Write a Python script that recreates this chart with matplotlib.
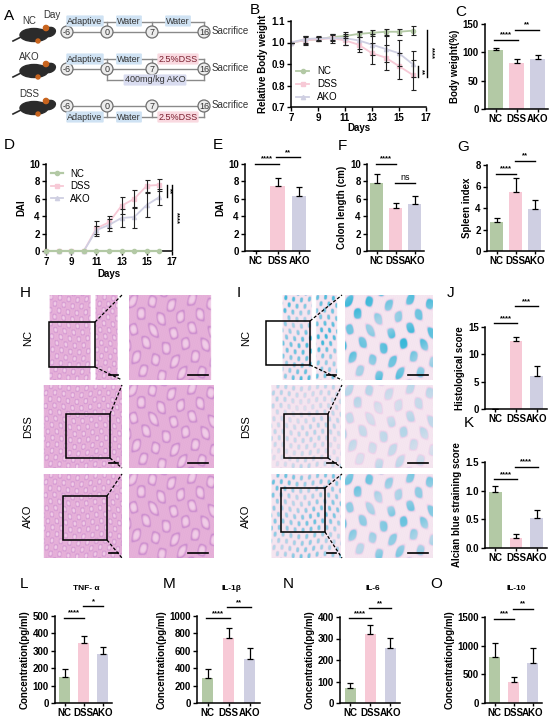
import numpy as np
import matplotlib
matplotlib.use("Agg")
import matplotlib.pyplot as plt
from matplotlib.patches import Circle, Ellipse, Rectangle

plt.rcParams['font.family'] = ['Liberation Sans', 'DejaVu Sans']
plt.rcParams['font.weight'] = 'bold'
plt.rcParams['axes.labelweight'] = 'bold'
plt.rcParams['axes.linewidth'] = 1.1

W, H = 550, 719

groups = ['NC', 'DSS', 'AKO']
col_nc, col_dss, col_ako = '#b3c9a5', '#f7c9d6', '#cfcfe2'
bar_cols = [col_nc, col_dss, col_ako]

# B: relative body weight
days = [7, 8, 9, 10, 11, 12, 13, 14, 15, 16]
bw_nc = [1.00, 1.01, 1.015, 1.025, 1.03, 1.04, 1.045, 1.05, 1.05, 1.055]
bw_nc_err = [0.0, 0.015, 0.01, 0.015, 0.01, 0.015, 0.015, 0.015, 0.015, 0.02]
bw_dss = [1.00, 1.01, 1.015, 1.02, 1.01, 0.99, 0.95, 0.93, 0.89, 0.85]
bw_dss_err = [0.0, 0.02, 0.01, 0.02, 0.02, 0.035, 0.05, 0.06, 0.06, 0.07]
bw_ako = [1.00, 1.015, 1.02, 1.02, 1.02, 1.01, 0.99, 0.97, 0.95, 0.90]
bw_ako_err = [0.0, 0.015, 0.01, 0.015, 0.03, 0.04, 0.05, 0.06, 0.06, 0.06]

# C: body weight (%)
c_mean = [104, 81, 89]
c_err = [4, 8, 7]

# D: DAI time course
dai_nc = [0, 0, 0, 0, 0, 0, 0, 0, 0, 0]
dai_dss = [0, 0, 0, 0, 2.6, 3.3, 5.2, 6.0, 7.5, 7.6]
dai_dss_err = [0, 0, 0, 0, 0.9, 0.7, 1.0, 1.0, 0.7, 0.7]
dai_ako = [0, 0, 0, 0, 2.4, 3.0, 3.8, 3.9, 5.3, 6.2]
dai_ako_err = [0, 0, 0, 0, 0.5, 0.7, 1.0, 1.2, 1.4, 0.9]

# E-G, J-K, L-O bar panels
e_mean, e_err = [0, 7.5, 6.3], [0, 0.9, 1.1]
f_mean, f_err = [7.8, 5.0, 5.4], [1.1, 0.5, 0.9]
g_mean, g_err = [2.7, 5.5, 3.9], [0.35, 1.3, 0.8]
j_mean, j_err = [0, 12.5, 6.1], [0, 0.7, 1.7]
k_mean, k_err = [0.98, 0.17, 0.52], [0.11, 0.08, 0.14]
tnf_mean, tnf_err = [148, 345, 280], [50, 40, 42]
il1b_mean, il1b_err = [290, 745, 510], [100, 120, 125]
il6_mean, il6_err = [72, 320, 254], [22, 43, 47]
il10_mean, il10_err = [810, 360, 705], [240, 90, 255]

fig = plt.figure(figsize=(W / 100, H / 100), dpi=100)


def px(x0, y0, x1, y1):
    return fig.add_axes([x0 / W, 1 - y1 / H, (x1 - x0) / W, (y1 - y0) / H])


def letter(x, y, s):
    fig.text(x / W, 1 - y / H, s, fontsize=11, fontweight='normal', ha='left', va='center')


def style(ax):
    for s in ['top', 'right']:
        ax.spines[s].set_visible(False)
    ax.tick_params(labelsize=7, length=3, width=1, pad=1.5)


def bars(ax, means, errs, ylim, yticks, ylabel, sigs, width=0.65):
    x = np.arange(3)
    ax.bar(x, means, width=width, color=bar_cols, zorder=2)
    ax.errorbar(x, means, yerr=[np.zeros(3), errs], fmt='none', ecolor='k',
                elinewidth=0.9, capsize=2.5, capthick=0.9, zorder=3)
    ax.set_xlim(-0.5, 2.5)
    ax.set_ylim(*ylim)
    ax.set_yticks(yticks)
    ax.set_xticks(x)
    ax.set_xticklabels(groups)
    ax.set_ylabel(ylabel, fontsize=7, labelpad=2)
    style(ax)
    ax.tick_params(axis='x', length=2)
    for i, j, y, txt in sigs:
        ax.plot([i - 0.05, j + 0.05], [y, y], color='k', lw=1, clip_on=False)
        ax.text((i + j) / 2, y + (ylim[1] - ylim[0]) * 0.015, txt, ha='center',
                va='bottom', fontsize=5.5 if txt != 'ns' else 6.5,
                fontweight='bold' if txt != 'ns' else 'normal', clip_on=False)


# ---------- A: schematic ----------
ov = fig.add_axes([0, 0, 1, 1], zorder=10)
ov.set_xlim(0, W)
ov.set_ylim(H, 0)
ov.axis('off')
ov.patch.set_alpha(0)

letter(4, 16, 'A')
circ_x = [67, 107, 152, 204]
circ_lab = ['-6', '0', '7', '16']
lc = '#8a8a8a'


def mouse(y):
    ov.add_patch(Ellipse((34, y + 2), 28, 13, color='#2b2b2b', zorder=3))
    ov.add_patch(Ellipse((49, y - 1), 13, 9, angle=-15, color='#2b2b2b', zorder=3))
    ov.add_patch(Circle((46, y - 5), 2.6, color='#c8641e', zorder=4))
    ov.add_patch(Circle((38, y + 8), 2.0, color='#c8641e', zorder=4))
    ov.plot([21, 13], [y + 4, y + 8], color='#2b2b2b', lw=1.2)


def label_box(x, y, s, kind='blue'):
    fc = {'blue': '#cfe2f3', 'pink': '#f9d9e0', 'lav': '#d9dcf0'}[kind]
    tc = '#7a1e2e' if kind == 'pink' else '#333333'
    ov.text(x, y, s, ha='center', va='center', fontsize=6.5, fontweight='normal',
            color=tc, zorder=6, bbox=dict(boxstyle='round,pad=0.12', fc=fc, ec='none'))


def timeline(y, top=None, bottom=None, top_from=0, bot_from=0):
    ov.plot([circ_x[0], circ_x[-1]], [y, y], color=lc, lw=1, zorder=2)
    for cx, cl in zip(circ_x, circ_lab):
        ov.add_patch(Circle((cx, y), 6, fc='#ececec', ec='#6f6f6f', lw=0.9, zorder=4))
        ov.text(cx, y + 0.5, cl, ha='center', va='center', fontsize=6.5,
                fontweight='normal', color='#333', zorder=5)
    ov.text(212, y - 1, 'Sacrifice', ha='left', va='center', fontsize=7,
            fontweight='normal', color='#333')
    if top is not None:
        ov.plot([circ_x[top_from], circ_x[-1]], [top, top], color=lc, lw=1, zorder=2)
        for cx in circ_x[top_from:]:
            ov.plot([cx, cx], [top, y - 6], color=lc, lw=1, zorder=2)
    if bottom is not None:
        ov.plot([circ_x[bot_from], circ_x[-1]], [bottom, bottom], color=lc, lw=1, zorder=2)
        for cx in circ_x[bot_from:]:
            ov.plot([cx, cx], [bottom, y + 6], color=lc, lw=1, zorder=2)


ov.text(43, 15, 'Day', fontsize=7, fontweight='normal', va='center', color='#333')
for yy, nm in [(21, 'NC'), (57, 'AKO'), (94, 'DSS')]:
    ov.text(19 if nm != 'NC' else 22, yy, nm, fontsize=7, fontweight='normal',
            va='center', color='#333')
for yy in [33, 69, 106]:
    mouse(yy)

timeline(32, top=22)
label_box(85, 21, 'Adaptive')
label_box(129, 21, 'Water')
label_box(178, 21, 'Water')

timeline(69, top=59, bottom=80, bot_from=1)
label_box(85, 59, 'Adaptive')
label_box(129, 59, 'Water')
label_box(178, 59, '2.5%DSS', 'pink')
label_box(155, 80, '400mg/kg AKO', 'lav')

timeline(106, bottom=117)
label_box(85, 117, 'Adaptive')
label_box(129, 117, 'Water')
label_box(178, 117, '2.5%DSS', 'pink')

# ---------- B ----------
letter(250, 10, 'B')
axb = px(291, 21, 426, 107)
for vals, errs, c, m, lab in [(bw_nc, bw_nc_err, col_nc, 'o', 'NC'),
                              (bw_dss, bw_dss_err, col_dss, 's', 'DSS'),
                              (bw_ako, bw_ako_err, col_ako, '^', 'AKO')]:
    axb.plot(days, vals, color=c, lw=1.3, marker=m, ms=3, label=lab, zorder=2)
    axb.errorbar(days, vals, yerr=errs, fmt='none', ecolor='#222', elinewidth=0.8,
                 capsize=1.8, capthick=0.8, zorder=3)
axb.set_xlim(7, 17)
axb.set_ylim(0.7, 1.1)
axb.set_xticks([7, 9, 11, 13, 15, 17])
axb.set_yticks([0.7, 0.8, 0.9, 1.0, 1.1])
axb.set_xlabel('Days', fontsize=7, labelpad=0)
axb.set_ylabel('Relative Body weight', fontsize=7, labelpad=2)
style(axb)
leg = axb.legend(loc='lower left', fontsize=7, frameon=False, handlelength=1.4,
                 borderaxespad=0.1, labelspacing=0.3, prop={'weight': 'normal', 'size': 7})
axb.plot([16.4, 16.4], [0.84, 0.89], color='k', lw=1, clip_on=False)
axb.text(16.65, 0.865, '**', rotation=270, fontsize=5.5, ha='center', va='center')
axb.plot([17.1, 17.1], [0.84, 1.06], color='k', lw=1, clip_on=False)
axb.text(17.4, 0.95, '****', rotation=270, fontsize=5.5, ha='center', va='center')

# ---------- C ----------
letter(455, 12, 'C')
axc = px(485, 24, 548, 109)
bars(axc, c_mean, c_err, (0, 150), [0, 50, 100, 150], 'Body weight(%)',
     [(0, 1, 122, '****'), (1, 2, 140, '**')], width=0.7)

# ---------- D ----------
letter(4, 145, 'D')
axd = px(46, 164, 172, 251)
for vals, errs, c, m, lab in [(dai_nc, None, col_nc, 'o', 'NC'),
                              (dai_dss, dai_dss_err, col_dss, 's', 'DSS'),
                              (dai_ako, dai_ako_err, col_ako, '^', 'AKO')]:
    axd.plot(days, vals, color=c, lw=1.6 if lab == 'NC' else 1.3, marker=m, ms=3,
             label=lab, zorder=3 if lab == 'NC' else 2, clip_on=False)
    if errs is not None:
        idx = [i for i, e in enumerate(errs) if e > 0]
        axd.errorbar([days[i] for i in idx], [vals[i] for i in idx],
                     yerr=[errs[i] for i in idx], fmt='none', ecolor='#222',
                     elinewidth=0.8, capsize=1.8, capthick=0.8, zorder=3)
axd.set_xlim(7, 17)
axd.set_ylim(0, 10)
axd.set_xticks([7, 9, 11, 13, 15, 17])
axd.set_yticks([0, 2, 4, 6, 8, 10])
axd.set_xlabel('Days', fontsize=7, labelpad=1)
axd.set_ylabel('DAI', fontsize=7, labelpad=2)
style(axd)
axd.legend(loc='upper left', frameon=False, handlelength=1.2, borderaxespad=0.1,
           labelspacing=0.25, prop={'weight': 'normal', 'size': 7})
axd.plot([16.6, 16.6], [6.2, 7.6], color='k', lw=1, clip_on=False)
axd.text(16.8, 6.9, '**', rotation=270, fontsize=5.5, ha='center', va='center')
axd.plot([17.0, 17.0], [0.1, 7.6], color='k', lw=1, clip_on=False)
axd.text(17.3, 3.8, '****', rotation=270, fontsize=5.5, ha='center', va='center')

# ---------- E, F, G ----------
letter(213, 145, 'E')
axe = px(245, 164, 310, 251)
bars(axe, e_mean, e_err, (0, 10), [0, 2, 4, 6, 8, 10], 'DAI',
     [(0, 1, 10.0, '****'), (1, 2, 10.8, '**')])
letter(338, 146, 'F')
axf = px(367, 164, 424, 251)
bars(axf, f_mean, f_err, (0, 10), [0, 2, 4, 6, 8, 10], 'Colon length (cm)',
     [(0, 1, 10.0, '****'), (1, 2, 7.8, 'ns')], width=0.68)
letter(457, 147, 'G')
axg = px(487, 165, 544, 251)
bars(axg, g_mean, g_err, (0, 8), [0, 2, 4, 6, 8], 'Spleen index',
     [(0, 1, 7.2, '****'), (1, 2, 8.4, '**')], width=0.68)


# ---------- H, I: histology panels (stylised tissue textures, not data) ----------
def tissue(h, w, stain, blue=0.0, white_cols=(), fx=0.34, fy=0.24):
    yy, xx = np.mgrid[0:h, 0:w].astype(float)
    s = (np.sin(xx * fx + 0.9 * np.sin(yy * 0.043)) *
         np.sin(yy * fy + 0.7 * np.sin(xx * 0.061)))
    mod = 0.5 + 0.5 * np.sin(xx * 0.031 + yy * 0.047) * np.cos(yy * 0.023 - xx * 0.017)
    fine = 0.5 + 0.5 * np.sin(xx * 1.3 + yy * 0.7) * np.sin(yy * 1.1 - xx * 0.4)
    ring = np.exp(-((s - 0.3) / 0.14) ** 2)[..., None]
    lumen = np.clip((s - 0.5) / 0.3, 0, 1)[..., None]
    if stain == 'he':
        base = np.array([0.93, 0.72, 0.88]) - 0.06 * fine[..., None]
        img = base * (1 - 0.75 * ring) + np.array([0.74, 0.48, 0.79]) * 0.75 * ring
        img = img * (1 - 0.6 * lumen) + np.array([0.97, 0.88, 0.95]) * 0.6 * lumen
    else:
        base = np.array([0.98, 0.92, 0.96]) - 0.04 * fine[..., None]
        img = base * (1 - 0.45 * ring) + np.array([0.92, 0.72, 0.89]) * 0.45 * ring
        amt = (np.clip((s - 0.3) / 0.2, 0, 1) * (0.4 + 0.6 * mod) * blue)[..., None]
        img = img * (1 - amt) + np.array([0.22, 0.72, 0.85]) * amt
    for a, b in white_cols:
        img[:, int(a * w):int(b * w)] = [1, 1, 1]
    return np.clip(img, 0, 1)


def show(rect, img):
    ax = px(*rect)
    ax.imshow(img, aspect='auto', interpolation='bilinear')
    ax.axis('off')
    return ax


letter(20, 293, 'H')
letter(237, 293, 'I')
row_y = [(295, 380), (385, 468), (474, 558)]
row_names = ['NC', 'DSS', 'AKO']
h_boxes = [(49, 322, 95, 367), (66, 414, 110, 458), (63, 496, 107, 540)]
i_boxes = [(266, 321, 310, 365), (284, 414, 328, 458), (281, 488, 325, 532)]
blues = [1.0, 0.35, 0.75]
for r, (y0, y1) in enumerate(row_y):
    hcols = [(0.0, 0.12), (0.62, 0.68), (0.95, 1.0)] if r == 0 else [(0.0, 0.05)]
    show((40, y0, 122, y1), tissue(170, 170, 'he', white_cols=hcols))
    show((129, y0, 213, y1), tissue(170, 170, 'he', fx=0.16, fy=0.11,
                                    white_cols=[(0.97, 1.0)] if r == 0 else ()))
    icols = [(0.0, 0.2), (0.6, 0.66), (0.95, 1.0)] if r == 0 else [(0.0, 0.05)]
    show((268, y0, 341, y1), tissue(170, 170, 'ab', blue=blues[r], white_cols=icols))
    show((345, y0, 432, y1), tissue(170, 170, 'ab', blue=blues[r], fx=0.16, fy=0.11))
    ym = (y0 + y1) / 2
    ov.text(28, ym, row_names[r], rotation=90, ha='center', va='center', fontsize=8,
            fontweight='normal')
    ov.text(246, ym, row_names[r], rotation=90, ha='center', va='center', fontsize=8,
            fontweight='normal')
    for (bx0, by0, bx1, by1), edge in [(h_boxes[r], 122), (i_boxes[r], 342)]:
        ov.add_patch(Rectangle((bx0, by0), bx1 - bx0, by1 - by0, fill=False, ec='k', lw=1.1))
        ov.plot([bx1, edge], [by0, y0], 'k--', lw=0.9, dashes=(2.5, 1.5))
        ov.plot([bx1, edge], [by1, y1], 'k--', lw=0.9, dashes=(2.5, 1.5))
    for x_end, ln in [(118, 9), (208, 20), (336, 9), (428, 20)]:
        ov.plot([x_end - ln, x_end], [y1 - 5, y1 - 5], color='k', lw=1.2)

# ---------- J, K ----------
letter(447, 293, 'J')
axj = px(485, 327, 547, 409)
bars(axj, j_mean, j_err, (0, 15), [0, 5, 10, 15], 'Histological score',
     [(0, 1, 15.7, '****'), (1, 2, 18.8, '***')], width=0.62)
letter(464, 423, 'K')
axk = px(485, 462, 547, 548)
bars(axk, k_mean, k_err, (0, 1.5), [0.0, 0.5, 1.0, 1.5], 'Alcian blue straining score',
     [(0, 1, 1.2, '****'), (1, 2, 1.42, '****')], width=0.62)
axk.yaxis.set_major_formatter(matplotlib.ticker.FormatStrFormatter('%.1f'))

# ---------- L-O cytokines ----------
cyto = [
    ('L', 'TNF- α', 20, (55, 616, 112, 703), tnf_mean, tnf_err, (0, 500),
     [0, 100, 200, 300, 400, 500], [(0, 1, 490, '****'), (1, 2, 555, '*')]),
    ('M', 'IL-1β', 163, (197, 616, 260, 703), il1b_mean, il1b_err, (0, 1000),
     [0, 200, 400, 600, 800, 1000], [(0, 1, 975, '****'), (1, 2, 1100, '**')]),
    ('N', 'IL-6', 283, (340, 617, 400, 703), il6_mean, il6_err, (0, 400),
     [0, 100, 200, 300, 400], [(0, 1, 395, '****'), (1, 2, 440, '**')]),
    ('O', 'IL-10', 430, (485, 617, 542, 703), il10_mean, il10_err, (0, 1500),
     [0, 500, 1000, 1500], [(0, 1, 1470, '***'), (1, 2, 1640, '**')]),
]
for lt, title, lx, rect, m, e, yl, yt, sg in cyto:
    letter(lx, 584, lt)
    ax = px(*rect)
    bars(ax, m, e, yl, yt, 'Concentration(pg/ml)', sg, width=0.55)
    fig.text(((rect[0] + rect[2]) / 2 + 3) / W, 1 - 589 / H, title, fontsize=6,
             ha='center', va='center')

fig.savefig('out.png', dpi=100)
